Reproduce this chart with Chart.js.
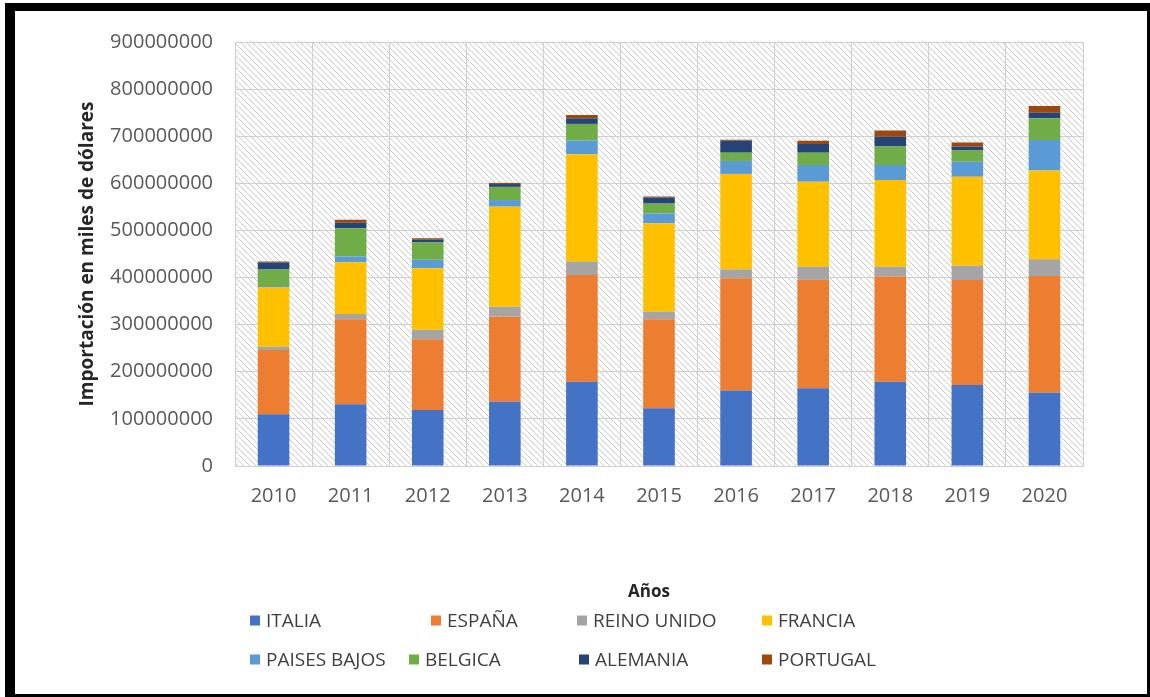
<!DOCTYPE html>
<html lang="es">
<head>
<meta charset="utf-8">
<title>Importación en miles de dólares</title>
<script src="https://cdn.jsdelivr.net/npm/chart.js@4.4.1/dist/chart.umd.min.js"></script>
<style>
  html, body { margin: 0; padding: 0; background: #fff; }
  body { width: 1150px; height: 697px; position: relative; overflow: hidden; font-family: "Open Sans", sans-serif; }
  #frame { position: absolute; left: 5px; top: 3px; width: 1152px; height: 701px; box-sizing: border-box;
           border: 10px solid #000; border-top-width: 8px; pointer-events: none; z-index: 2; }
  #wrap { position: absolute; left: 0; top: 0; width: 1150px; height: 697px; }
  #legend { position: absolute; left: 0; top: 0; width: 1150px; height: 697px; pointer-events: none; }
  #xTitle { position: absolute; left: 649px; top: 590px; transform: translate(-50%, -50%);
            font-size: 17px; font-weight: bold; color: #262626; line-height: 1; }
  .item { position: absolute; display: flex; align-items: center; font-size: 19px; color: #404040;
          white-space: nowrap; line-height: 1; transform: translateY(-50%); }
  .item .box { width: 10px; height: 10px; margin-right: 6px; flex: none; }
</style>
</head>
<body>
<div id="wrap"><canvas id="chart" width="1150" height="697"></canvas></div>
<div id="xTitle">Años</div>
<div id="legend"></div>
<div id="frame"></div>
<script>
const years = ["2010", "2011", "2012", "2013", "2014", "2015", "2016", "2017", "2018", "2019", "2020"];

// importaciones por país, en millones (el eje muestra miles de dólares)
const italia      = [110, 131, 119, 136.5, 179, 122.5, 160, 165, 179, 172, 155.5];
const espana      = [136, 180.5, 150, 180.5, 226.5, 189, 238.5, 230, 223, 223, 248];
const reinoUnido  = [7, 11, 20, 21, 28.3, 16, 19, 28, 21, 30, 35.5];
const francia     = [126, 110, 131, 212.5, 228, 187.5, 202.5, 180.5, 184, 189, 188];
const paisesBajos = [3, 12, 18, 14, 29, 21, 27.5, 35.5, 32, 32, 65];
const belgica     = [35, 60, 36.5, 28, 35.3, 21, 17.5, 26, 39, 23.5, 46];
const alemania    = [15, 12, 6, 6, 12, 13, 25.5, 18.5, 21, 8.5, 12];
const portugal    = [2, 6, 3, 2.5, 7, 2, 2, 7, 13, 8.5, 14];

const yTicks = [0, 100000000, 200000000, 300000000, 400000000, 500000000, 600000000, 700000000, 800000000, 900000000];

const series = [
  { label: "ITALIA",       data: italia,      color: "#4472C4" },
  { label: "ESPAÑA",       data: espana,      color: "#ED7D31" },
  { label: "REINO UNIDO",  data: reinoUnido,  color: "#A5A5A5" },
  { label: "FRANCIA",      data: francia,     color: "#FFC000" },
  { label: "PAISES BAJOS", data: paisesBajos, color: "#5B9BD5" },
  { label: "BELGICA",      data: belgica,     color: "#70AD47" },
  { label: "ALEMANIA",     data: alemania,    color: "#264478" },
  { label: "PORTUGAL",     data: portugal,    color: "#9E480E" },
];

// legend slots, same order as series
const legendSlots = [
  [250, 620], [431, 620], [577, 620], [762, 620],
  [250, 659], [409, 659], [579, 659], [762, 659],
];

const legendEl = document.getElementById("legend");
series.forEach((s, i) => {
  const el = document.createElement("div");
  el.className = "item";
  el.style.left = legendSlots[i][0] + "px";
  el.style.top = legendSlots[i][1] + "px";
  el.innerHTML = `<span class="box" style="background:${s.color}"></span>${s.label}`;
  legendEl.appendChild(el);
});

// diagonal hatch behind the plot area
let hatch = null;
const hatchBg = {
  id: "hatchBg",
  beforeDraw(chart) {
    const { ctx, chartArea: a } = chart;
    if (!hatch) {
      const s = 6;
      const c = document.createElement("canvas");
      c.width = s; c.height = s;
      const g = c.getContext("2d");
      g.fillStyle = "#fff";
      g.fillRect(0, 0, s, s);
      g.strokeStyle = "#cccccc";
      g.lineWidth = 1;
      g.beginPath();
      g.moveTo(-1, -1); g.lineTo(s + 1, s + 1);
      g.moveTo(-1, s - 1); g.lineTo(1, s + 1);
      g.moveTo(s - 1, -1); g.lineTo(s + 1, 1);
      g.stroke();
      hatch = ctx.createPattern(c, "repeat");
    }
    ctx.save();
    ctx.fillStyle = hatch;
    ctx.fillRect(a.left, a.top, a.right - a.left, a.bottom - a.top);
    ctx.restore();
  }
};

const tickFont = { family: "Open Sans", size: 20 };
const gridColor = "#cfcfcf";

new Chart(document.getElementById("chart"), {
  type: "bar",
  data: {
    labels: years,
    datasets: series.map((s) => ({
      label: s.label,
      data: s.data.map((v) => v * 1e6),
      backgroundColor: s.color,
      borderWidth: 0,
      barPercentage: 0.41,
      categoryPercentage: 1,
    })),
  },
  options: {
    responsive: false,
    animation: false,
    layout: { padding: { left: 70, right: 67, top: 42, bottom: 91 } },
    plugins: {
      legend: { display: false },
      tooltip: { enabled: false },
    },
    scales: {
      x: {
        stacked: true,
        grid: { color: gridColor, drawTicks: false, offset: true },
        border: { color: gridColor },
        ticks: { color: "#595959", font: tickFont, padding: 18 },
        afterFit: (s) => { s.height = 140; },
      },
      y: {
        stacked: true,
        min: 0,
        max: 900000000,
        afterBuildTicks: (s) => { s.ticks = yTicks.map((v) => ({ value: v })); },
        grid: { color: gridColor, drawTicks: false },
        border: { display: false },
        ticks: { color: "#595959", font: tickFont, padding: 22, callback: (v) => String(v) },
        title: {
          display: true, text: "Importación en miles de dólares", color: "#262626",
          font: { family: "Open Sans", size: 19, weight: "bold" },
          padding: { top: 6, bottom: 0 },
        },
        afterFit: (s) => { s.width = 165; },
      },
    },
  },
  plugins: [hatchBg],
});
</script>
</body>
</html>
